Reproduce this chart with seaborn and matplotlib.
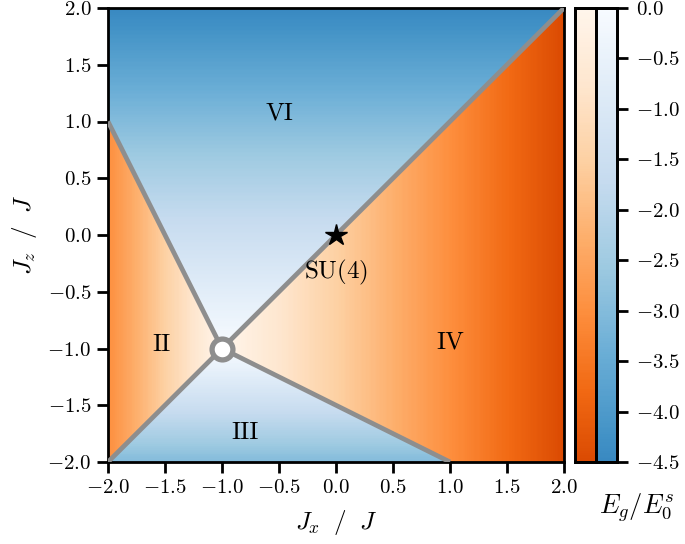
import numpy as np
import matplotlib
matplotlib.use("Agg")
import matplotlib.pyplot as plt
from matplotlib.colors import ListedColormap
import seaborn as sns

# ---- data ----
jx_range = [-2.0, 2.0]
jz_range = [-2.0, 2.0]
ticks = [-2.0, -1.5, -1.0, -0.5, 0.0, 0.5, 1.0, 1.5, 2.0]
cbar_ticks = [0.0, -0.5, -1.0, -1.5, -2.0, -2.5, -3.0, -3.5, -4.0, -4.5]
gap_min, gap_max = -4.5, 0.0

# gap slope per phase (E_g / E_0^s drops linearly away from the (-1,-1) point)
slope_VI = 1.5   # along +Jz
slope_IV = 1.5   # along +Jx
slope_II = 3.0   # along -Jx
slope_III = 3.0  # along -Jz

# phase boundaries (Jx, Jz) pairs
boundaries = [
    ([-1.0, 2.0], [-1.0, 2.0]),
    ([-1.0, -2.0], [-1.0, -2.0]),
    ([-1.0, -2.0], [-1.0, 1.0]),
    ([-1.0, 1.0], [-1.0, -2.0]),
]
multicritical = (-1.0, -1.0)
su4_point = (0.0, 0.0)

phase_names = ["VI", "II", "III", "IV", "SU$(4)$"]
phase_jx = [-0.5, -1.53, -0.8, 1.0, 0.0]
phase_jz = [1.07, -0.97, -1.74, -0.95, -0.33]

# ---- style ----
plt.rcParams["font.family"] = "serif"
plt.rcParams["font.serif"] = ["cmr10"]
plt.rcParams["mathtext.fontset"] = "cm"
plt.rcParams["axes.formatter.use_mathtext"] = True
plt.rcParams["axes.unicode_minus"] = True

blues = ListedColormap(plt.get_cmap("Blues")(np.linspace(0.66, 0.0, 256)))
oranges = ListedColormap(plt.get_cmap("Oranges")(np.linspace(0.74, 0.0, 256)))

# ---- build the gap field on a grid ----
n = 400
jx = np.linspace(jx_range[0], jx_range[1], n)
jz = np.linspace(jz_range[1], jz_range[0], n)  # top row = +2
JX, JZ = np.meshgrid(jx, jz)

is_VI = (JZ >= JX) & (JZ >= -2 * JX - 3)
is_II = (JZ >= JX) & (JZ < -2 * JX - 3)
is_IV = (JZ < JX) & (JZ >= -0.5 * JX - 1.5)
is_III = (JZ < JX) & (JZ < -0.5 * JX - 1.5)

gap = np.zeros_like(JX)
gap[is_VI] = -slope_VI * (JZ[is_VI] + 1)
gap[is_IV] = -slope_IV * (JX[is_IV] + 1)
gap[is_II] = slope_II * (JX[is_II] + 1)
gap[is_III] = slope_III * (JZ[is_III] + 1)

orange_mask = ~(is_II | is_IV)
blue_mask = ~(is_VI | is_III)

# ---- figure layout ----
W, H = 685, 544
fig = plt.figure(figsize=(W / 100, H / 100), dpi=100)
rect = [108 / W, (H - 462) / H, 456 / W, 454 / H]
ax_hm = fig.add_axes(rect)
cax_o = fig.add_axes([575 / W, rect[1], 21 / W, rect[3]])
cax_b = fig.add_axes([596 / W, rect[1], 21 / W, rect[3]])

sns.heatmap(gap, mask=orange_mask, cmap=oranges, vmin=gap_min, vmax=gap_max,
            ax=ax_hm, cbar_ax=cax_o, xticklabels=False, yticklabels=False,
            rasterized=True)
sns.heatmap(gap, mask=blue_mask, cmap=blues, vmin=gap_min, vmax=gap_max,
            ax=ax_hm, cbar_ax=cax_b, xticklabels=False, yticklabels=False,
            rasterized=True)
ax_hm.set_axis_off()

fmt = matplotlib.ticker.FormatStrFormatter("$%.1f$")
for cax in (cax_o, cax_b):
    cax.set_ylim(gap_min, gap_max)
    for sp in cax.spines.values():
        sp.set_visible(True)
        sp.set_linewidth(2.0)
        sp.set_color("black")
cax_o.tick_params(left=False, right=False, labelleft=False, labelright=False)
cax_b.set_yticks(cbar_ticks)
cax_b.tick_params(axis="y", right=True, length=8, width=2.0, labelsize=15,
                  direction="out", pad=6)
cax_b.yaxis.set_major_formatter(fmt)

# ---- overlay axes in physical coordinates ----
ax = fig.add_axes(rect, facecolor="none")
ax.set_xlim(jx_range)
ax.set_ylim(jz_range)
ax.set_xticks(ticks)
ax.set_yticks(ticks)
ax.xaxis.set_major_formatter(fmt)
ax.yaxis.set_major_formatter(fmt)
ax.tick_params(length=8, width=2.0, labelsize=15, direction="out", pad=4)
for sp in ax.spines.values():
    sp.set_linewidth(2.0)

for bx, bz in boundaries:
    ax.plot(bx, bz, color="#8e8e8e", lw=3.4, solid_capstyle="butt", zorder=3)
ax.plot(*multicritical, marker="o", ms=15, mfc="white", mec="#8e8e8e",
        mew=3.8, zorder=5)
ax.plot(*su4_point, marker="*", ms=16, color="black", zorder=5)

for name, x, z in zip(phase_names, phase_jx, phase_jz):
    ax.text(x, z, name, fontsize=18, ha="center", va="center", zorder=6)

ax.set_xlabel(r"$J_x\;\ /\;\ J$", fontsize=18, labelpad=8)
ax.set_ylabel(r"$J_z\;\ /\;\ J$", fontsize=18, labelpad=6)
fig.text(637 / W, 1 - 508 / H, r"$E_g/E_0^s$", fontsize=19,
         ha="center", va="center")

fig.savefig("out.png", dpi=100)
